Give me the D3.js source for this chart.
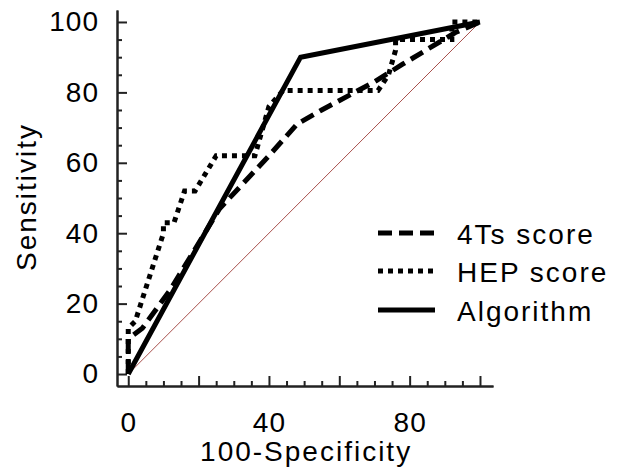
<!DOCTYPE html>
<html>
<head>
<meta charset="utf-8">
<script src="https://cdn.jsdelivr.net/npm/d3@7"></script>
<style>
  body { margin: 0; background: #fff; }
  text { font-family: "Liberation Sans", Arial, sans-serif; fill: #000; }
</style>
</head>
<body>
<div id="chart"></div>
<script>
// ROC curves, values (x = 100-Specificity, y = Sensitivity)
const fourTsX = [0, 0, 4, 12, 26, 40, 48, 55, 70, 78, 93, 100];
const fourTsY = [0, 10, 13, 24, 47, 62, 71, 75, 83, 88, 97, 100];

const hepX = [0, 0, 2, 10, 10, 13, 16, 19, 25, 36, 40, 44, 71, 74, 76, 76, 92, 92, 100];
const hepY = [0, 13, 15, 40, 43, 43, 52, 52, 62, 62, 76, 80.5, 80.5, 85, 92, 95, 95, 100, 100];

const algoX = [0, 49, 100];
const algoY = [0, 90, 100];

const majorTicks = [0, 20, 40, 60, 80, 100];
const minorTicks = d3.range(0, 101, 5).filter(v => v % 20 !== 0);
const xLabels = [0, 40, 80];
const yLabels = [0, 20, 40, 60, 80, 100];

const seriesNames = ['4Ts score', 'HEP score', 'Algorithm'];

const width = 620, height = 475;
const fs = 28;

const svg = d3.select('#chart').append('svg')
    .attr('width', width)
    .attr('height', height);

// scales padded a bit past 0..100 so the axis lines run past the end ticks
const x = d3.scaleLinear().domain([-3.2, 103.7]).range([117, 493]);
const y = d3.scaleLinear().domain([-3.4, 103.4]).range([386, 10]);

// reference diagonal
svg.append('line')
    .attr('x1', x(0)).attr('y1', y(0))
    .attr('x2', x(100)).attr('y2', y(100))
    .attr('stroke', '#a8504c')
    .attr('stroke-width', 1);

// axes: minor ticks first, then the major ticks with labels
const xMinor = svg.append('g')
    .attr('transform', `translate(0,${y.range()[0]})`)
    .call(d3.axisBottom(x).tickValues(minorTicks).tickSize(-5).tickSizeOuter(0).tickFormat(''));
const yMinor = svg.append('g')
    .attr('transform', `translate(${x.range()[0]},0)`)
    .call(d3.axisLeft(y).tickValues(minorTicks).tickSize(-5).tickSizeOuter(0).tickFormat(''));

const xAxis = svg.append('g')
    .attr('transform', `translate(0,${y.range()[0]})`)
    .call(d3.axisBottom(x).tickValues(majorTicks).tickSize(-10).tickSizeOuter(0).tickPadding(26)
      .tickFormat(d => xLabels.includes(d) ? d : ''));
const yAxis = svg.append('g')
    .attr('transform', `translate(${x.range()[0]},0)`)
    .call(d3.axisLeft(y).tickValues(yLabels).tickSize(-10).tickSizeOuter(0).tickPadding(18));

[xMinor, yMinor, xAxis, yAxis].forEach(g => {
  g.selectAll('path, line').attr('stroke', '#222').attr('stroke-width', 2);
  g.selectAll('text')
    .attr('font-size', fs)
    .attr('fill', '#000')
    .style('letter-spacing', '1px')
    .style('font-family', '"Liberation Sans", Arial, sans-serif');
});

// axis titles
svg.append('text')
    .attr('x', (x(0) + x(100)) / 2 + 2)
    .attr('y', 461)
    .attr('text-anchor', 'middle')
    .attr('font-size', fs)
    .style('letter-spacing', '2px')
    .text('100-Specificity');

svg.append('text')
    .attr('transform', `translate(36,${197}) rotate(-90)`)
    .attr('text-anchor', 'middle')
    .attr('font-size', fs)
    .style('letter-spacing', '2px')
    .text('Sensitivity');

// curves
const line = d3.line().x(d => x(d[0])).y(d => y(d[1]));
const styles = [
  {dash: '14,7'},
  {dash: '5,5'},
  {dash: null}
];
const series = [
  d3.zip(fourTsX, fourTsY),
  d3.zip(hepX, hepY),
  d3.zip(algoX, algoY)
];

const order = [1, 0, 2];
order.forEach(i => {
  svg.append('path')
      .datum(series[i])
      .attr('d', line)
      .attr('fill', 'none')
      .attr('stroke', '#000')
      .attr('stroke-width', 5)
      .attr('stroke-linejoin', 'miter')
      .attr('stroke-dasharray', styles[i].dash);
});

// legend
const legend = svg.append('g');
const rowY = [233, 271, 310];
seriesNames.forEach((name, i) => {
  legend.append('line')
      .attr('x1', 378).attr('x2', 435)
      .attr('y1', rowY[i]).attr('y2', rowY[i])
      .attr('stroke', '#000')
      .attr('stroke-width', 5)
      .attr('stroke-dasharray', styles[i].dash);
  legend.append('text')
      .attr('x', 457)
      .attr('y', rowY[i] + 11)
      .attr('font-size', fs)
      .style('letter-spacing', '2px')
      .text(name);
});
</script>
</body>
</html>
